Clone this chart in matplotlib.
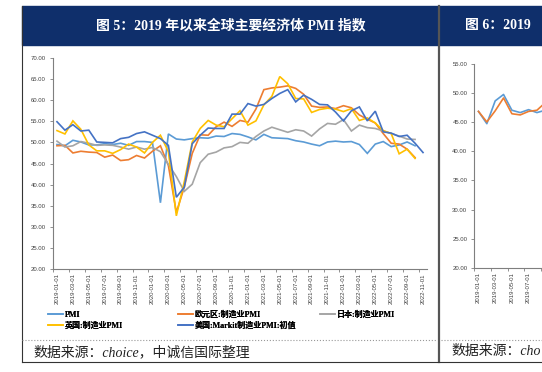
import matplotlib
matplotlib.use('Agg')
import matplotlib.pyplot as plt
import numpy as np
import pandas as pd
from matplotlib.patches import Rectangle
from matplotlib.lines import Line2D

# 数据（2019-01 起按月）
months = pd.date_range('2019-01-01', '2022-11-01', freq='MS').strftime('%Y-%m-%d').tolist()

china_pmi = [49.5, 49.2, 50.5, 50.1, 49.4, 49.4, 49.7, 49.5, 49.8, 49.3, 50.2, 50.2,
             50.0, 35.7, 52.0, 50.8, 50.6, 50.9, 51.1, 51.0, 51.5, 51.4, 52.1, 51.9,
             51.3, 50.6, 51.9, 51.1, 51.0, 50.9, 50.4, 50.1, 49.6, 49.2, 50.1, 50.3,
             50.1, 50.2, 49.5, 47.4, 49.6, 50.2, 49.0, 49.4, 50.1, 49.2]
euro_pmi = [49.2, 49.3, 47.5, 47.9, 47.7, 47.6, 46.5, 47.0, 45.7, 45.9, 46.9, 46.3,
            47.9, 49.2, 44.5, 33.4, 39.4, 47.4, 51.8, 51.7, 53.7, 54.8, 53.8, 55.2,
            54.8, 57.9, 62.5, 62.9, 63.1, 63.4, 62.8, 61.4, 58.6, 58.3, 58.4, 58.0,
            58.7, 58.2, 56.5, 55.5, 54.6, 52.1, 49.8, 49.6, 48.4, 46.4]
japan_pmi = [50.3, 48.9, 49.2, 50.2, 49.8, 49.3, 49.4, 49.3, 48.9, 48.4, 48.9, 48.4,
             48.8, 47.8, 44.8, 41.9, 38.4, 40.1, 45.2, 47.2, 47.7, 48.7, 49.0, 50.0,
             49.8, 51.4, 52.7, 53.6, 53.0, 52.4, 53.0, 52.7, 51.5, 53.2, 54.5, 54.3,
             55.4, 52.7, 54.1, 53.5, 53.3, 52.7, 52.1, 51.5, 50.8, 50.7]
uk_pmi = [52.8, 52.0, 55.1, 53.1, 49.4, 48.0, 48.0, 47.4, 48.3, 49.6, 48.9, 47.5,
          50.0, 51.7, 47.8, 32.6, 40.7, 50.1, 53.3, 55.2, 54.1, 53.7, 55.6, 57.5,
          54.1, 55.1, 58.9, 60.9, 65.6, 63.9, 60.4, 60.3, 57.1, 57.8, 58.1, 57.9,
          57.3, 58.0, 55.2, 55.8, 54.6, 52.8, 52.1, 47.3, 48.4, 46.2]
us_pmi = [54.9, 52.9, 54.2, 52.7, 52.9, 50.1, 50.0, 49.9, 50.9, 51.2, 52.1, 52.5,
          51.7, 50.9, 49.3, 37.0, 39.4, 49.7, 51.7, 53.4, 53.3, 53.3, 56.7, 56.7,
          59.2, 58.6, 59.0, 60.4, 61.6, 62.5, 59.6, 61.2, 60.2, 59.0, 58.9, 57.2,
          55.1, 57.5, 58.4, 55.1, 57.4, 52.5, 52.2, 51.4, 51.7, 49.8, 47.6]

labels = ['PMI', '欧元区:制造业PMI', '日本:制造业PMI', '英国:制造业PMI', '美国:Markit制造业PMI:初值']
colors = ['#5B9BD5', '#ED7D31', '#A5A5A5', '#FFC000', '#4472C4']

# 右侧被截断的图6
fig6_a = [46.8, 44.7, 48.6, 49.7, 47.0, 46.6, 47.1, 46.6, 47.0]
fig6_b = [46.8, 45.0, 46.9, 49.1, 46.4, 46.2, 46.8, 47.0, 48.3]

W, H = 542, 372
def fx(px):
    return px / W
def fy(py):
    return 1 - py / H

CJK = ['Liberation Serif', 'Noto Sans CJK SC']

fig = plt.figure(figsize=(W / 100, H / 100), dpi=100)
fig.patch.set_facecolor('white')

# 标题栏和边框
fig.add_artist(Rectangle((fx(22), fy(45)), fx(W - 22), (45 - 6) / H,
                         transform=fig.transFigure, color='#0f2f6b', zorder=0))
fig.add_artist(Line2D([fx(22), fx(22)], [fy(6), fy(362)], transform=fig.transFigure,
                      color='#333333', lw=0.8))
fig.add_artist(Line2D([fx(439), fx(439)], [fy(6), fy(362)], transform=fig.transFigure,
                      color='#555555', lw=1.6))
fig.add_artist(Line2D([fx(22), 1], [fy(362), fy(362)], transform=fig.transFigure,
                      color='#333333', lw=0.8))
fig.add_artist(Line2D([fx(22), fx(437)], [fy(340), fy(340)], transform=fig.transFigure,
                      color='#999999', lw=0.8, ls=':'))
fig.add_artist(Line2D([fx(441), 1], [fy(340), fy(340)], transform=fig.transFigure,
                      color='#999999', lw=0.8, ls=':'))

fig.text(fx(231), fy(25), '图 5：2019 年以来全球主要经济体 PMI 指数', color='white',
         fontsize=10, fontweight='bold', family=CJK, ha='center', va='center')
fig.text(fx(465), fy(25), '图 6：2019', color='white',
         fontsize=10, fontweight='bold', family=CJK, ha='left', va='center')

fig.text(fx(33), fy(352), '数据来源：choice，中诚信国际整理', fontsize=10, style='italic',
         family=CJK, color='#222222', ha='left', va='center')
# 右侧只露出开头几个字
fig.text(fx(451), fy(352), '数据来源：cho', fontsize=10, style='italic',
         family=CJK, color='#222222', ha='left', va='center')


def style_axes(ax, ymin, ymax, n_labels):
    for s in ['top', 'right']:
        ax.spines[s].set_visible(False)
    for s in ['left', 'bottom']:
        ax.spines[s].set_color('#7f7f7f')
        ax.spines[s].set_linewidth(0.8)
    ax.set_ylim(ymin, ymax)
    ax.set_yticks(np.arange(ymin, ymax + 0.1, 5))
    ax.set_yticklabels(['%.2f' % v for v in np.arange(ymin, ymax + 0.1, 5)],
                       fontsize=4.3, color='#404040', family='Liberation Sans')
    ax.tick_params(axis='y', direction='out', length=2, width=0.6, color='#7f7f7f', pad=3)
    ax.set_xlim(-0.5, len(months) - 0.5)
    ax.set_xticks(np.arange(-0.5, len(months) - 1, 2))
    ax.set_xticklabels([])
    ax.set_xticks(np.arange(0, 2 * n_labels, 2), minor=True)
    ax.set_xticklabels(months[:2 * n_labels:2], minor=True, rotation=90, fontsize=4.3,
                       color='#404040', family='Liberation Sans')
    ax.tick_params(axis='x', which='major', direction='out', length=2, width=0.6, color='#7f7f7f')
    ax.tick_params(axis='x', which='minor', length=0, pad=3)


# 图5
ax = fig.add_axes([fx(53), fy(269), (427 - 53) / W, (269 - 58) / H])
series = [china_pmi, euro_pmi, japan_pmi, uk_pmi, us_pmi]
lines = []
for vals, lab, col in zip(series, labels, colors):
    ln, = ax.plot(np.arange(len(vals)), vals, color=col, lw=1.2, label=lab,
                  solid_joinstyle='miter')
    lines.append(ln)
style_axes(ax, 20, 70, 24)

# 图例（按原图排成两行）
legend_cols = [([lines[0], lines[3]], fx(48)), ([lines[1], lines[4]], fx(178)), ([lines[2]], fx(320))]
for hs, x0 in legend_cols:
    lg = fig.legend(handles=hs, labels=[h.get_label() for h in hs], loc='upper left',
                    bbox_to_anchor=(x0, fy(311)), bbox_transform=fig.transFigure,
                    frameon=False, borderpad=0, borderaxespad=0, handlelength=1.9,
                    handletextpad=0.15, labelspacing=0.3,
                    prop={'family': CJK, 'weight': 'bold', 'size': 5.8})
    fig.add_artist(lg)

# 图6（右侧截断）
ax2 = fig.add_axes([fx(474.3), fy(268), 392.5 / W, (268 - 63.5) / H])
ax2.plot(np.arange(len(fig6_a)), fig6_a, color='#5B9BD5', lw=1.2)
ax2.plot(np.arange(len(fig6_b)), fig6_b, color='#ED7D31', lw=1.2)
style_axes(ax2, 20, 55, 4)

fig.savefig('out.png', dpi=100)
